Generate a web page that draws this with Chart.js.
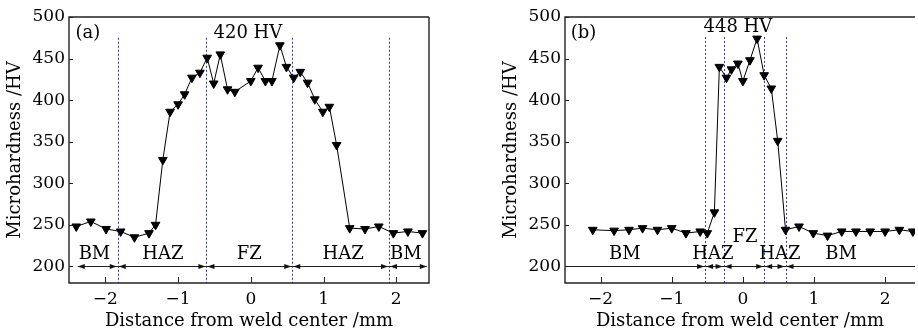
<!DOCTYPE html>
<html>
<head>
<meta charset="utf-8">
<script src="https://cdn.jsdelivr.net/npm/chart.js@4.4.0/dist/chart.umd.min.js"></script>
<style>
  html, body { margin: 0; padding: 0; background: #fff; }
  #wrap { position: relative; width: 918px; height: 330px; overflow: hidden; }
  .box { position: absolute; top: 0; height: 330px; }
  #boxA { left: 0; width: 455px; }
  #boxB { left: 455px; width: 466px; }
</style>
</head>
<body>
<div id="wrap">
  <div class="box" id="boxA"><canvas id="chartA" width="455" height="330"></canvas></div>
  <div class="box" id="boxB"><canvas id="chartB" width="466" height="330"></canvas></div>
</div>
<script>
// (a) hardness profile
const distA = [-2.40, -2.20, -1.99, -1.79, -1.60, -1.40, -1.31, -1.21, -1.11, -1.00, -0.91, -0.81, -0.70,
  -0.60, -0.51, -0.42, -0.32, -0.22, 0.00, 0.10, 0.20, 0.29, 0.40, 0.49, 0.59, 0.68, 0.78, 0.88, 0.99,
  1.08, 1.18, 1.36, 1.57, 1.76, 1.96, 2.16, 2.36];
const hvA = [248, 254, 245, 242, 235, 240, 250, 328, 386, 395, 407, 427, 433,
  451, 420, 455, 413, 410, 423, 439, 423, 423, 466, 440, 427, 434, 421, 401, 386,
  392, 346, 246, 245, 248, 240, 242, 240];

// (b) hardness profile
const distB = [-2.11, -1.81, -1.60, -1.41, -1.20, -1.00, -0.80, -0.60, -0.50, -0.40, -0.33, -0.23, -0.16,
  -0.07, 0.00, 0.10, 0.20, 0.30, 0.40, 0.49, 0.60, 0.79, 0.99, 1.19, 1.39, 1.59, 1.79, 2.00, 2.20, 2.39];
const hvB = [244, 243, 244, 246, 244, 246, 240, 242, 240, 265, 440, 427, 437,
  444, 423, 448, 474, 430, 414, 351, 244, 248, 240, 237, 242, 242, 242, 242, 244, 242];

// zone boundaries (mm)
const boundsA = [-1.83, -0.61, 0.57, 1.90];
const boundsB = [-0.53, -0.27, 0.30, 0.60];
const zonesA = ['BM', 'HAZ', 'FZ', 'HAZ', 'BM'];
const zonesB = ['BM', 'HAZ', 'FZ', 'HAZ', 'BM'];

const xTicks = [-2, -1, 0, 1, 2];
const yTicks = [200, 250, 300, 350, 400, 450, 500];

const FONT = "'DejaVu Serif', 'Liberation Serif', serif";
Chart.defaults.font.family = FONT;
Chart.defaults.color = '#000';

function head(ctx, tip, yy, dir) {
  ctx.beginPath();
  ctx.moveTo(tip, yy);
  ctx.lineTo(tip - dir * 7, yy - 2.5);
  ctx.lineTo(tip - dir * 7, yy + 2.5);
  ctx.closePath();
  ctx.fill();
}

const decor = {
  id: 'decor',
  beforeDatasetsDraw(chart, args, o) {
    const { ctx, chartArea: a, scales: { x, y } } = chart;
    ctx.save();
    // dashed zone boundaries
    ctx.strokeStyle = '#3a3a8e';
    ctx.lineWidth = 1;
    ctx.setLineDash([2, 2]);
    o.bounds.forEach(b => {
      const px = Math.round(x.getPixelForValue(b)) + 0.5;
      ctx.beginPath();
      ctx.moveTo(px, y.getPixelForValue(o.dashTop));
      ctx.lineTo(px, a.bottom);
      ctx.stroke();
    });
    ctx.setLineDash([]);

    // zone arrows at 200 HV
    const ya = Math.round(y.getPixelForValue(200)) + 0.5;
    ctx.strokeStyle = '#222';
    ctx.fillStyle = '#111';
    ctx.beginPath();
    if (o.ends) {
      ctx.moveTo(x.getPixelForValue(o.ends[0]), ya);
      ctx.lineTo(x.getPixelForValue(o.ends[1]), ya);
    } else {
      ctx.moveTo(a.left, ya);
      ctx.lineTo(a.right, ya);
    }
    ctx.stroke();
    o.bounds.forEach(b => {
      const px = x.getPixelForValue(b);
      head(ctx, px - 1, ya, 1);
      head(ctx, px + 1, ya, -1);
    });
    if (o.ends) {
      head(ctx, x.getPixelForValue(o.ends[0]), ya, -1);
      head(ctx, x.getPixelForValue(o.ends[1]), ya, 1);
    }

    // texts
    ctx.fillStyle = '#000';
    ctx.textAlign = 'center';
    ctx.textBaseline = 'middle';
    ctx.font = '18px ' + FONT;
    o.labels.forEach(l => {
      ctx.fillText(l.t, x.getPixelForValue(l.x), y.getPixelForValue(l.y));
    });
    ctx.restore();
  },
  afterDraw(chart, args, o) {
    const { ctx, chartArea: a, scales: { x, y } } = chart;
    ctx.save();
    ctx.strokeStyle = '#222';
    ctx.lineWidth = 1.4;
    ctx.beginPath();
    ctx.moveTo(a.right, a.top);
    ctx.lineTo(a.left, a.top);
    ctx.lineTo(a.left, a.bottom);
    ctx.lineTo(a.right, a.bottom);
    if (o.frameRight) ctx.lineTo(a.right, a.top);
    ctx.stroke();
    // inward ticks
    ctx.lineWidth = 1;
    ctx.beginPath();
    x.ticks.forEach(t => {
      const px = Math.round(x.getPixelForValue(t.value)) + 0.5;
      ctx.moveTo(px, a.bottom);
      ctx.lineTo(px, a.bottom - 6);
    });
    y.ticks.forEach(t => {
      const py = Math.round(y.getPixelForValue(t.value)) + 0.5;
      ctx.moveTo(a.left, py);
      ctx.lineTo(a.left + 4, py);
    });
    ctx.stroke();
    ctx.restore();
  }
};

function makeChart(id, dist, hv, xMin, xMax, padLeft, padRight, deco) {
  return new Chart(document.getElementById(id), {
    type: 'line',
    data: {
      datasets: [{
        data: dist.map((d, i) => ({ x: d, y: hv[i] })),
        borderColor: '#000',
        borderWidth: 1,
        tension: 0,
        pointStyle: 'triangle',
        rotation: 180,
        pointRadius: 5,
        pointBackgroundColor: '#000',
        pointBorderColor: '#000',
        pointBorderWidth: 1
      }]
    },
    options: {
      responsive: false,
      animation: false,
      layout: { padding: { left: padLeft, right: padRight, top: 17, bottom: 0 } },
      plugins: { legend: { display: false }, tooltip: { enabled: false }, decor: deco },
      scales: {
        x: {
          type: 'linear', min: xMin, max: xMax,
          border: { display: false },
          grid: { display: false, drawTicks: false },
          afterBuildTicks: s => { s.ticks = xTicks.map(v => ({ value: v })); },
          afterFit: s => { s.height = 47; },
          ticks: {
            padding: 6, font: { size: 17 }, color: '#000',
            callback: v => v < 0 ? '\u2212' + Math.abs(v) : String(v)
          },
          title: {
            display: true, text: 'Distance from weld center /mm',
            font: { size: 18, lineHeight: 1 }, color: '#000', padding: { top: 0, bottom: 0 }
          }
        },
        y: {
          min: 180, max: 500,
          border: { display: false },
          grid: { display: false, drawTicks: false },
          afterBuildTicks: s => { s.ticks = yTicks.map(v => ({ value: v })); },
          afterFit: s => { s.width = 69; },
          ticks: { padding: 4, font: { size: 17 }, color: '#000' },
          title: {
            display: true, text: 'Microhardness /HV',
            font: { size: 18, lineHeight: 1 }, color: '#000', padding: { top: 6, bottom: 0 }
          }
        }
      }
    },
    plugins: [decor]
  });
}

makeChart('chartA', distA, hvA, -2.5, 2.45, 0, 26, {
  bounds: boundsA, dashTop: 475, ends: [-2.38, 2.42], frameRight: true,
  labels: [
    { t: zonesA[0], x: -2.15, y: 215 }, { t: zonesA[1], x: -1.21, y: 215 },
    { t: zonesA[2], x: -0.02, y: 215 }, { t: zonesA[3], x: 1.27, y: 215 },
    { t: zonesA[4], x: 2.13, y: 215 },
    { t: '(a)', x: -2.24, y: 480 }, { t: '420 HV', x: -0.04, y: 480 }
  ]
});

makeChart('chartB', distB, hvB, -2.5, 2.42, 41, 0, {
  bounds: boundsB, dashTop: 476, ends: null, frameRight: false,
  labels: [
    { t: zonesB[0], x: -1.66, y: 215 }, { t: zonesB[1], x: -0.42, y: 215 },
    { t: zonesB[2], x: 0.03, y: 235 }, { t: zonesB[3], x: 0.52, y: 215 },
    { t: zonesB[4], x: 1.38, y: 215 },
    { t: '(b)', x: -2.24, y: 480 }, { t: '448 HV', x: -0.07, y: 487.5 }
  ]
});
</script>
</body>
</html>
